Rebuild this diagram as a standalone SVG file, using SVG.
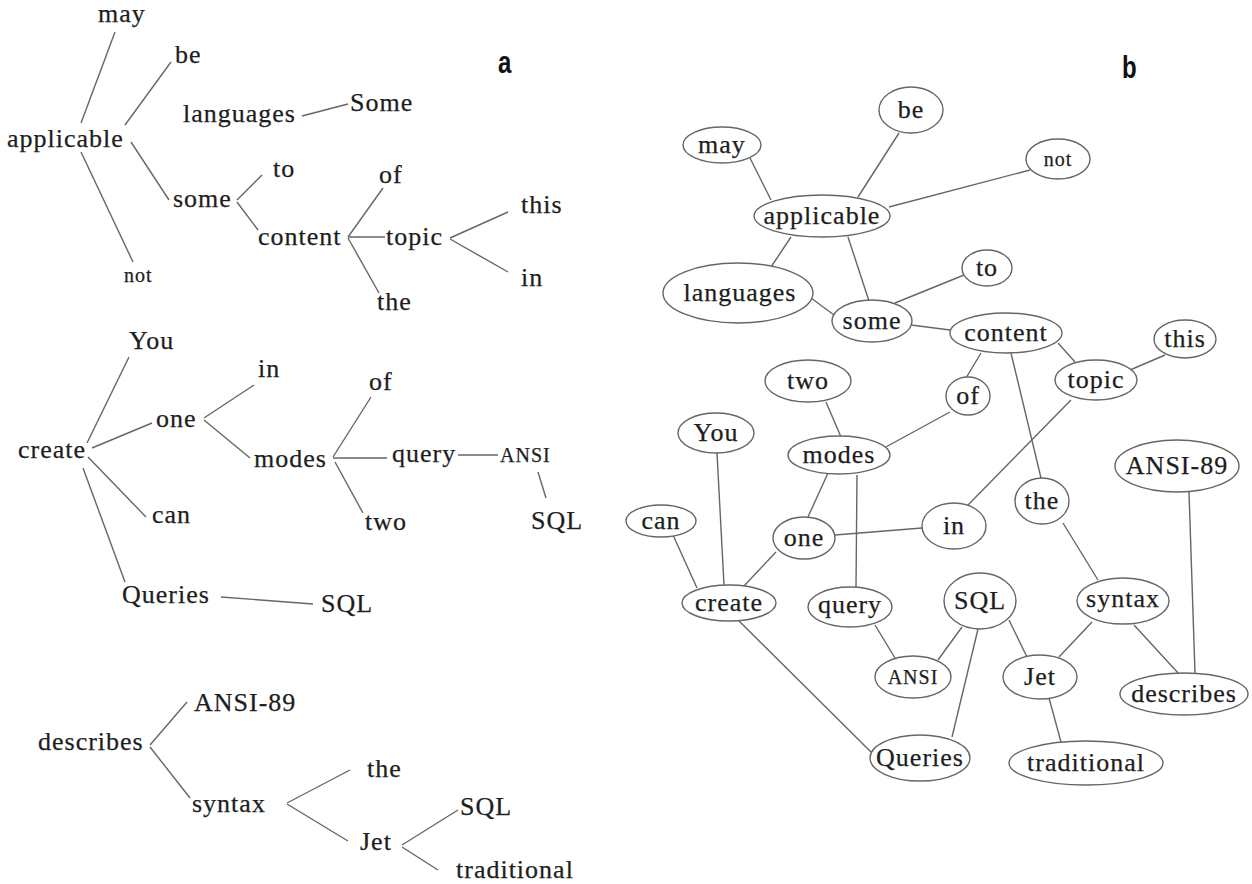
<svg xmlns="http://www.w3.org/2000/svg" width="1252" height="884" viewBox="0 0 1252 884">
<style>
text{font-family:"Liberation Serif","DejaVu Serif",serif;font-size:26px;fill:#1e1e1e;stroke:#1e1e1e;stroke-width:0.25;letter-spacing:1px}
.sm{font-size:20px}
.lbl{font-family:"Liberation Sans","Open Sans",sans-serif;font-weight:bold;font-size:32px;fill:#111;stroke:none;letter-spacing:0}
.c{text-anchor:middle}
line{stroke:#666;stroke-width:1.4}
ellipse{fill:#fff;stroke:#666;stroke-width:1.4}
</style>
<rect width="1252" height="884" fill="#fff"/>
<text class="lbl" transform="translate(498,73) scale(0.75,1)">a</text>
<text class="lbl" transform="translate(1122,78) scale(0.75,1)">b</text>
<g id="a-connectors">
<line x1="302" y1="116" x2="348" y2="104"/>
<line x1="115" y1="32" x2="81" y2="123"/>
<line x1="171" y1="62" x2="125" y2="125"/>
<line x1="131" y1="142" x2="169" y2="200"/>
<line x1="81" y1="152" x2="133" y2="262"/>
<line x1="237" y1="200" x2="262" y2="175"/>
<line x1="237" y1="202" x2="258" y2="230"/>
<line x1="348" y1="237" x2="383" y2="188"/>
<line x1="348" y1="237" x2="385" y2="237"/>
<line x1="348" y1="238" x2="379" y2="293"/>
<line x1="450" y1="238" x2="508" y2="212"/>
<line x1="450" y1="239" x2="508" y2="272"/>
<line x1="87" y1="443" x2="129" y2="357"/>
<line x1="92" y1="448" x2="152" y2="423"/>
<line x1="204" y1="418" x2="254" y2="385"/>
<line x1="204" y1="420" x2="250" y2="458"/>
<line x1="333" y1="457" x2="371" y2="397"/>
<line x1="333" y1="458" x2="387" y2="458"/>
<line x1="458" y1="455" x2="498" y2="455"/>
<line x1="538" y1="472" x2="546" y2="498"/>
<line x1="335" y1="462" x2="363" y2="513"/>
<line x1="88" y1="457" x2="146" y2="517"/>
<line x1="83" y1="468" x2="125" y2="582"/>
<line x1="221" y1="597" x2="313" y2="604"/>
<line x1="150" y1="745" x2="187" y2="702"/>
<line x1="150" y1="747" x2="190" y2="798"/>
<line x1="287" y1="803" x2="350" y2="770"/>
<line x1="287" y1="804" x2="348" y2="841"/>
<line x1="402" y1="845" x2="458" y2="810"/>
<line x1="402" y1="847" x2="438" y2="870"/>
</g>
<g id="a-may"><text x="98" y="22">may</text></g>
<g id="a-be"><text x="175" y="63">be</text></g>
<g id="a-languages"><text x="183" y="122">languages</text></g>
<g id="a-Some"><text x="350" y="111">Some</text></g>
<g id="a-applicable"><text x="7" y="147">applicable</text></g>
<g id="a-not"><text class="sm" x="124" y="282">not</text></g>
<g id="a-some"><text x="173" y="207">some</text></g>
<g id="a-to"><text x="273" y="177">to</text></g>
<g id="a-content"><text x="258" y="245">content</text></g>
<g id="a-of1"><text x="379" y="183">of</text></g>
<g id="a-topic"><text x="386" y="245">topic</text></g>
<g id="a-this"><text x="521" y="213">this</text></g>
<g id="a-in1"><text x="521" y="286">in</text></g>
<g id="a-the1"><text x="377" y="310">the</text></g>
<g id="a-You"><text x="129" y="349">You</text></g>
<g id="a-create"><text x="18" y="458">create</text></g>
<g id="a-one"><text x="156" y="427">one</text></g>
<g id="a-in2"><text x="258" y="377">in</text></g>
<g id="a-modes"><text x="254" y="467">modes</text></g>
<g id="a-of2"><text x="369" y="390">of</text></g>
<g id="a-query"><text x="392" y="462">query</text></g>
<g id="a-ANSI"><text class="sm" x="500" y="462">ANSI</text></g>
<g id="a-SQL1"><text x="531" y="529">SQL</text></g>
<g id="a-two"><text x="365" y="530">two</text></g>
<g id="a-can"><text x="152" y="523">can</text></g>
<g id="a-Queries"><text x="122" y="603">Queries</text></g>
<g id="a-SQL2"><text x="321" y="612">SQL</text></g>
<g id="a-ANSI-89"><text x="194" y="711">ANSI-89</text></g>
<g id="a-describes"><text x="38" y="750">describes</text></g>
<g id="a-syntax"><text x="192" y="812">syntax</text></g>
<g id="a-the2"><text x="367" y="777">the</text></g>
<g id="a-Jet"><text x="360" y="850">Jet</text></g>
<g id="a-SQL3"><text x="460" y="815">SQL</text></g>
<g id="a-traditional"><text x="456" y="878">traditional</text></g>
<g id="b-connectors">
<line x1="750" y1="158" x2="771" y2="200"/>
<line x1="899" y1="133" x2="858" y2="197"/>
<line x1="1030" y1="170" x2="889" y2="207"/>
<line x1="791" y1="237" x2="771" y2="267"/>
<line x1="848" y1="237" x2="869" y2="301"/>
<line x1="811" y1="298" x2="834" y2="315"/>
<line x1="895" y1="303" x2="964" y2="275"/>
<line x1="911" y1="325" x2="950" y2="330"/>
<line x1="981" y1="353" x2="966" y2="378"/>
<line x1="1011" y1="353" x2="1041" y2="478"/>
<line x1="1058" y1="343" x2="1075" y2="362"/>
<line x1="1130" y1="370" x2="1165" y2="355"/>
<line x1="1071" y1="400" x2="968" y2="505"/>
<line x1="826" y1="402" x2="841" y2="437"/>
<line x1="884" y1="448" x2="950" y2="412"/>
<line x1="828" y1="473" x2="808" y2="517"/>
<line x1="857" y1="475" x2="856" y2="588"/>
<line x1="835" y1="535" x2="922" y2="528"/>
<line x1="776" y1="552" x2="743" y2="587"/>
<line x1="717" y1="453" x2="724" y2="585"/>
<line x1="673" y1="535" x2="697" y2="588"/>
<line x1="1063" y1="523" x2="1098" y2="580"/>
<line x1="1189" y1="492" x2="1195" y2="673"/>
<line x1="739" y1="621" x2="871" y2="752"/>
<line x1="875" y1="625" x2="895" y2="658"/>
<line x1="962" y1="627" x2="938" y2="660"/>
<line x1="978" y1="629" x2="952" y2="737"/>
<line x1="1009" y1="620" x2="1027" y2="657"/>
<line x1="1092" y1="622" x2="1059" y2="657"/>
<line x1="1134" y1="625" x2="1179" y2="674"/>
<line x1="1049" y1="698" x2="1061" y2="742"/>
</g>
<g id="b-may"><ellipse cx="722" cy="145" rx="39" ry="18"/><text class="c" x="722" y="153">may</text></g>
<g id="b-be"><ellipse cx="911" cy="110" rx="32" ry="23"/><text class="c" x="911" y="118">be</text></g>
<g id="b-not"><ellipse cx="1058" cy="159" rx="32" ry="20"/><text class="c sm" x="1058" y="166">not</text></g>
<g id="b-applicable"><ellipse cx="822" cy="216" rx="68" ry="21"/><text class="c" x="822" y="224">applicable</text></g>
<g id="b-languages"><ellipse cx="738" cy="293" rx="75" ry="30"/><text class="c" x="740" y="301">languages</text></g>
<g id="b-to"><ellipse cx="987" cy="268" rx="25" ry="18"/><text class="c" x="987" y="276">to</text></g>
<g id="b-some"><ellipse cx="872" cy="321" rx="40" ry="21"/><text class="c" x="872" y="329">some</text></g>
<g id="b-content"><ellipse cx="1006" cy="333" rx="56" ry="20"/><text class="c" x="1006" y="341">content</text></g>
<g id="b-this"><ellipse cx="1185" cy="339" rx="31" ry="19"/><text class="c" x="1185" y="347">this</text></g>
<g id="b-two"><ellipse cx="808" cy="381" rx="43" ry="21"/><text class="c" x="808" y="389">two</text></g>
<g id="b-of"><ellipse cx="968" cy="396" rx="22" ry="19"/><text class="c" x="968" y="404">of</text></g>
<g id="b-topic"><ellipse cx="1096" cy="380" rx="41" ry="20"/><text class="c" x="1096" y="388">topic</text></g>
<g id="b-You"><ellipse cx="716" cy="433" rx="38" ry="20"/><text class="c" x="716" y="441">You</text></g>
<g id="b-modes"><ellipse cx="839" cy="455" rx="51" ry="19"/><text class="c" x="839" y="463">modes</text></g>
<g id="b-ANSI-89"><ellipse cx="1177" cy="466" rx="62" ry="26"/><text class="c" x="1177" y="474">ANSI-89</text></g>
<g id="b-the"><ellipse cx="1042" cy="501" rx="27" ry="23"/><text class="c" x="1042" y="509">the</text></g>
<g id="b-in"><ellipse cx="954" cy="526" rx="32" ry="23"/><text class="c" x="954" y="534">in</text></g>
<g id="b-can"><ellipse cx="661" cy="521" rx="35" ry="16"/><text class="c" x="661" y="529">can</text></g>
<g id="b-one"><ellipse cx="804" cy="538" rx="31" ry="21"/><text class="c" x="804" y="546">one</text></g>
<g id="b-create"><ellipse cx="729" cy="603" rx="47" ry="18"/><text class="c" x="729" y="611">create</text></g>
<g id="b-query"><ellipse cx="850" cy="607" rx="42" ry="20"/><text class="c" x="850" y="613">query</text></g>
<g id="b-SQL"><ellipse cx="980" cy="601" rx="36" ry="28"/><text class="c" x="980" y="609">SQL</text></g>
<g id="b-syntax"><ellipse cx="1123" cy="601" rx="46" ry="23"/><text class="c" x="1123" y="607">syntax</text></g>
<g id="b-ANSI"><ellipse cx="913" cy="677" rx="38" ry="21"/><text class="c sm" x="913" y="684">ANSI</text></g>
<g id="b-Jet"><ellipse cx="1040" cy="677" rx="37" ry="22"/><text class="c" x="1040" y="685">Jet</text></g>
<g id="b-describes"><ellipse cx="1184" cy="694" rx="64" ry="21"/><text class="c" x="1184" y="702">describes</text></g>
<g id="b-Queries"><ellipse cx="920" cy="758" rx="50" ry="23"/><text class="c" x="920" y="766">Queries</text></g>
<g id="b-traditional"><ellipse cx="1086" cy="763" rx="77" ry="22"/><text class="c" x="1086" y="771">traditional</text></g>
</svg>
